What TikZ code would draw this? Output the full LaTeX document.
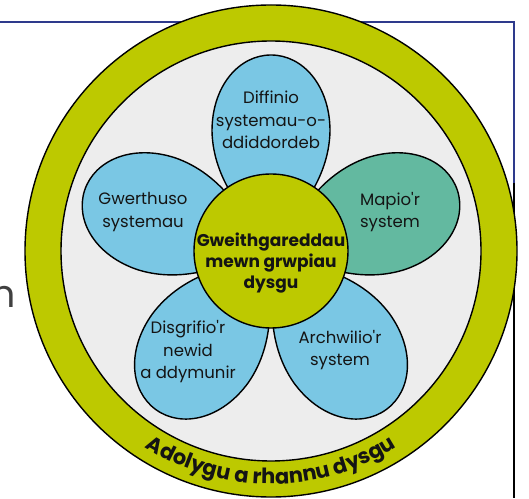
\documentclass[tikz,border=0pt]{standalone}
\usepackage{fontspec}
\setmainfont{Poppins}
\newfontfamily\labelfont{Poppins}
\usetikzlibrary{decorations.text}

\definecolor{ringgreen}{RGB}{189,201,0}
\definecolor{discgrey}{RGB}{237,237,237}
\definecolor{petalblue}{RGB}{122,199,228}
\definecolor{petalteal}{RGB}{99,185,160}
\definecolor{framenavy}{RGB}{46,58,140}
\definecolor{inkblack}{RGB}{20,20,20}

\begin{document}
\begin{tikzpicture}[x=1pt, y=1pt, line width=1.4pt,
    petal text/.style={font=\labelfont\fontsize{16.5}{22.5}\selectfont, align=center, text=inkblack},
    hub text/.style={font=\labelfont\fontsize{17}{21}\selectfont\bfseries, align=center, text=inkblack},
    petal/.pic={\path[pic actions] (0,10) .. controls (24,33) and (58,70) .. (59,120)
        .. controls (59,165) and (32,196) .. (0,196)
        .. controls (-32,196) and (-59,165) .. (-59,120)
        .. controls (-58,70) and (-24,33) .. (0,10) -- cycle;}]

    \useasboundingbox (0,0) rectangle (529,498);

    % frame behind the flower
    \coordinate (frameL) at (0,476);
    \coordinate (frameR) at (514,476);
    \coordinate (frameM) at (514,315);
    \coordinate (frameB) at (514,0);
    \draw[framenavy, line width=1.6pt] (frameL) -- (frameR) -- (frameM);
    \draw[black, line width=1.6pt] (frameM) -- (frameB);

    % cut-off word on the left
    \node[anchor=base east, inner sep=0pt, text=black!75,
        font=\labelfont\fontsize{38}{38}\selectfont] (cutword) at (17,191) {n};

    % ring and disc
    \coordinate (c) at (271,247);
    \draw[fill=ringgreen] (c) circle (246);
    \draw[fill=discgrey] (c) circle (210);

    % petals
    \pic[draw, fill=petalblue, rotate=0] at (c) {petal};
    \pic[draw, fill=petalblue, rotate=72] at (c) {petal};
    \pic[draw, fill=petalblue, rotate=144] at (c) {petal};
    \pic[draw, fill=petalblue, rotate=216] at (c) {petal};
    \pic[draw, fill=petalteal, rotate=-72] at (c) {petal};

    % centre
    \node[circle, draw, fill=ringgreen, minimum size=154pt, inner sep=0pt] (hub) at (c) {};
    \node[hub text] (hubtext) at ([yshift=-12pt]hub.center) {Gweithgareddau\\mewn grwpiau\\dysgu};

    \node[petal text] (define) at (271,378) {Diffinio\\systemau-o-\\ddiddordeb};
    \node[petal text] (evaluate) at (143,286) {Gwerthuso\\systemau};
    \node[petal text] (map) at (390,286) {Mapio'r\\system};
    \node[petal text] (describe) at (188,146) {Disgrifio'r\\newid\\a ddymunir};
    \node[petal text] (explore) at (340,148) {Archwilio'r\\system};

    % text round the ring
    \path[decorate, decoration={text along path, text align=center,
        text={|\labelfont\fontsize{21}{21}\selectfont\bfseries\color{inkblack}|Adolygu a rhannu dysgu}}]
        (c) ++(210:233) arc[start angle=210, end angle=330, radius=233];

\end{tikzpicture}
\end{document}
